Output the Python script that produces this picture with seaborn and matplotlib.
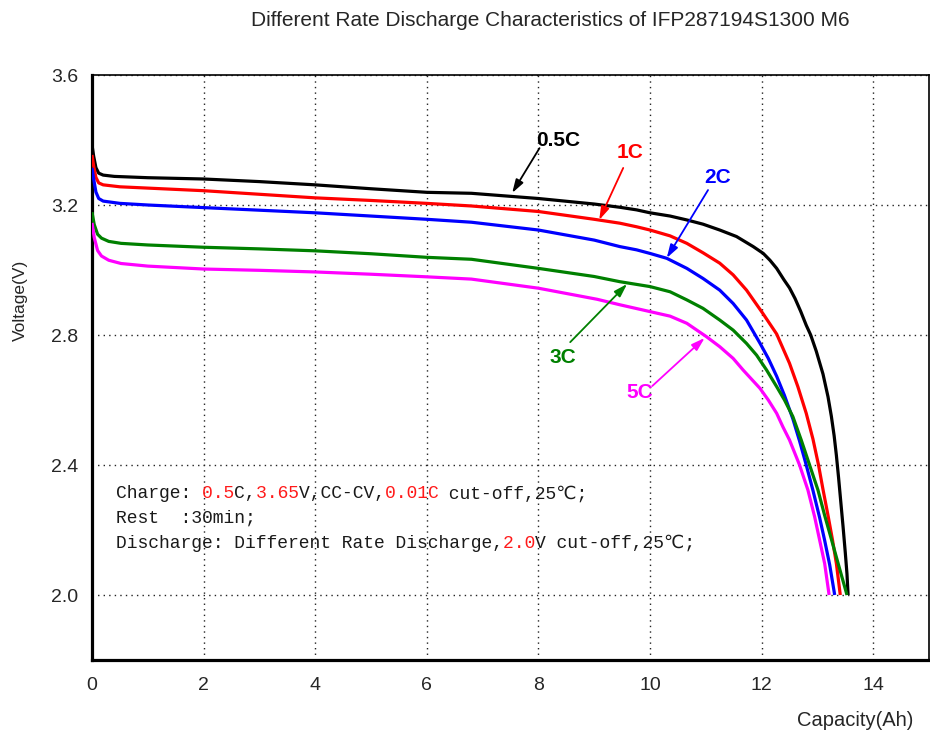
import numpy as np
import pandas as pd
import matplotlib
matplotlib.use("Agg")
import matplotlib.pyplot as plt
import seaborn as sns
from matplotlib.ticker import FixedLocator, FormatStrFormatter

# ---------------- data ----------------
rates = ["0.5C", "1C", "2C", "3C", "5C"]
colors = ["#000000", "#ff0000", "#0000ff", "#008000", "#ff00ff"]

cap_05 = [0, 0.03, 0.07, 0.12, 0.2, 0.4, 1, 2, 3, 4, 5, 6, 6.8, 8, 9, 9.46, 9.76, 10, 10.36,
          10.66, 10.95, 11.25, 11.55, 11.85, 12.03, 12.15, 12.27, 12.4, 12.5, 12.6, 12.7, 12.8,
          12.88, 12.98, 13.1, 13.19, 13.25, 13.3, 13.34, 13.38, 13.42, 13.46, 13.5, 13.53, 13.55]
v_05 = [3.385, 3.35, 3.315, 3.298, 3.292, 3.288, 3.284, 3.28, 3.272, 3.262, 3.25, 3.239, 3.236,
        3.22, 3.203, 3.193, 3.185, 3.176, 3.166, 3.154, 3.141, 3.123, 3.103, 3.072, 3.051,
        3.03, 3.005, 2.97, 2.945, 2.912, 2.873, 2.83, 2.8, 2.75, 2.68, 2.61, 2.55, 2.49,
        2.43, 2.36, 2.285, 2.21, 2.13, 2.065, 2.0]

cap_1 = [0, 0.03, 0.07, 0.12, 0.2, 0.5, 1, 2, 3, 4, 5, 6, 6.8, 8, 9, 9.46, 9.76, 10, 10.36,
         10.66, 10.95, 11.25, 11.49, 11.73, 12.02, 12.27, 12.5, 12.65, 12.8, 12.92, 13.02,
         13.1, 13.19, 13.27, 13.34, 13.41]
v_1 = [3.354, 3.32, 3.285, 3.268, 3.262, 3.256, 3.252, 3.244, 3.233, 3.222, 3.214, 3.205, 3.197,
       3.18, 3.156, 3.144, 3.133, 3.123, 3.105, 3.082, 3.053, 3.021, 2.985, 2.938, 2.867,
       2.803, 2.713, 2.641, 2.559, 2.48, 2.4, 2.325, 2.245, 2.17, 2.097, 2.0]

cap_2 = [0, 0.03, 0.07, 0.12, 0.2, 0.5, 1, 2, 3, 4, 5, 6, 6.8, 8, 9, 9.46, 9.76, 10, 10.3,
         10.66, 10.95, 11.25, 11.49, 11.73, 11.97, 12.12, 12.27, 12.41, 12.56, 12.68, 12.8,
         12.92, 13.04, 13.13, 13.22, 13.31]
v_2 = [3.314, 3.28, 3.24, 3.22, 3.212, 3.205, 3.2, 3.192, 3.184, 3.176, 3.166, 3.156, 3.147,
       3.123, 3.092, 3.072, 3.062, 3.051, 3.036, 3.005, 2.974, 2.938, 2.897, 2.846, 2.775,
       2.728, 2.673, 2.614, 2.542, 2.474, 2.4, 2.322, 2.238, 2.168, 2.093, 2.0]

cap_3 = [0, 0.04, 0.1, 0.17, 0.3, 0.52, 1, 2, 3, 4, 5, 6, 6.8, 8, 9, 9.46, 10, 10.36, 10.66,
         10.95, 11.25, 11.49, 11.73, 11.91, 12.09, 12.27, 12.41, 12.56, 12.71, 12.86,
         13.01, 13.13, 13.25, 13.37, 13.53]
v_3 = [3.178, 3.14, 3.11, 3.098, 3.088, 3.082, 3.077, 3.07, 3.065, 3.059, 3.05, 3.039, 3.033,
       3.005, 2.98, 2.964, 2.949, 2.933, 2.908, 2.882, 2.846, 2.815, 2.774, 2.738, 2.692,
       2.641, 2.6, 2.549, 2.477, 2.4, 2.323, 2.245, 2.172, 2.098, 2.0]

cap_5 = [0, 0.04, 0.1, 0.17, 0.3, 0.52, 1, 2, 3, 4, 5, 6, 6.8, 8, 9.05, 9.46, 10, 10.36, 10.66,
         11.01, 11.25, 11.49, 11.67, 11.97, 12.12, 12.27, 12.38, 12.5, 12.68, 12.83, 12.95,
         13.04, 13.13, 13.21]
v_5 = [3.145, 3.10, 3.06, 3.043, 3.03, 3.02, 3.012, 3.003, 2.999, 2.994, 2.987, 2.979, 2.972,
       2.944, 2.91, 2.893, 2.872, 2.858, 2.836, 2.795, 2.764, 2.728, 2.692, 2.636, 2.6, 2.559,
       2.518, 2.477, 2.4, 2.323, 2.241, 2.169, 2.097, 2.0]

caps = [cap_05, cap_1, cap_2, cap_3, cap_5]
volts = [v_05, v_1, v_2, v_3, v_5]

x_labeled = [0, 2, 4, 6, 8, 10, 12, 14]
x_ticks = [1, 3, 5, 7, 9, 11, 13]
y_labeled = [2.0, 2.4, 2.8, 3.2, 3.6]
y_ticks = [2.2, 2.6, 3.0, 3.4]

title = "Different Rate Discharge Characteristics of IFP287194S1300 M6"

# rate label positions and arrows (text centre, arrow tail, arrow head)
label_text = {"0.5C": (8.36, 3.397), "1C": (9.65, 3.362), "2C": (11.22, 3.286),
              "3C": (8.44, 2.731), "5C": (9.81, 2.623)}
arrow_tail = {"0.5C": (8.02, 3.375), "1C": (9.52, 3.314), "2C": (11.04, 3.246),
              "3C": (8.57, 2.778), "5C": (10.04, 2.643)}
arrow_head = {"0.5C": (7.53, 3.237), "1C": (9.09, 3.154), "2C": (10.30, 3.037),
              "3C": (9.59, 2.957), "5C": (10.98, 2.791)}

note_lines = [
    [("Charge: ", "k"), ("0.5", "r"), ("C,", "k"), ("3.65", "r"), ("V,CC-CV,", "k"),
     ("0.01C", "r"), (" cut-off,25℃;", "k")],
    [("Rest  :30min;", "k")],
    [("Discharge: Different Rate Discharge,", "k"), ("2.0", "r"), ("V cut-off,25℃;", "k")],
]

# ---------------- plot ----------------
sns.set_style("white")
plt.rcParams["font.family"] = ["Liberation Sans", "DejaVu Sans"]

fig = plt.figure(figsize=(9.3, 7.34), dpi=100)
ax = fig.add_axes([92 / 930, 1 - 660 / 734, (929 - 92) / 930, (660 - 75) / 734])

df = pd.concat([pd.DataFrame({"Capacity": c, "Voltage": v, "Rate": r})
                for c, v, r in zip(caps, volts, rates)], ignore_index=True)
sns.lineplot(data=df, x="Capacity", y="Voltage", hue="Rate", hue_order=rates,
             palette=dict(zip(rates, colors)), sort=False, estimator=None,
             legend=False, linewidth=2.3, ax=ax, zorder=3,
             solid_joinstyle="round", solid_capstyle="butt")

ax.set_xlim(0, 15)
ax.set_ylim(1.8, 3.6)
ax.xaxis.set_major_locator(FixedLocator(x_labeled))
ax.xaxis.set_minor_locator(FixedLocator(x_ticks))
ax.yaxis.set_major_locator(FixedLocator(y_labeled))
ax.yaxis.set_minor_locator(FixedLocator(y_ticks))
ax.yaxis.set_major_formatter(FormatStrFormatter("%.1f"))
ax.xaxis.set_major_formatter(FormatStrFormatter("%d"))
ax.tick_params(which="major", direction="in", length=0, labelsize=14)
ax.tick_params(which="minor", direction="in", length=6, width=1.6, color="black")
ax.tick_params(axis="x", which="major", pad=12)
ax.tick_params(axis="y", which="major", pad=10)
ax.grid(True, which="major", linestyle=(0, (1, 3)), color="#222222", linewidth=1.0)

for side in ["left", "bottom"]:
    ax.spines[side].set_linewidth(2.3)
    ax.spines[side].set_color("black")
for side in ["top", "right"]:
    ax.spines[side].set_linewidth(1.2)
    ax.spines[side].set_color("black")
    ax.spines[side].set_visible(True)

ax.set_xlabel("Capacity(Ah)", fontsize=14.5)
ax.set_ylabel("Voltage(V)", fontsize=12.5)
ax.xaxis.set_label_coords(0.912, -0.087)
ax.yaxis.set_label_coords(-0.077, 0.615)

fig.text(550 / 930, 1 - 21 / 734, title, ha="center", va="center", fontsize=15)

for r, col in zip(rates, colors):
    ax.annotate("", xy=arrow_head[r], xytext=arrow_tail[r],
                arrowprops=dict(arrowstyle="-|>,head_length=0.8,head_width=0.25",
                                color=col, lw=1.3, shrinkA=0, shrinkB=0), zorder=4)
    tx, ty = label_text[r]
    ax.text(tx, ty, r, color=col, fontsize=15, fontweight="bold", ha="center",
            va="center", zorder=4)

# note block: segments chained one after another (zero-width spaces keep exact advances)
mono = ["Liberation Mono", "DejaVu Sans Mono", "DejaVu Sans"]
note_y = [2.311, 2.237, 2.160]
cmap = {"k": "#1a1a1a", "r": "#ff1a1a"}
zw = "\u200b"
for segs, y in zip(note_lines, note_y):
    prev = None
    for t, c in segs:
        s = zw + t + zw
        if prev is None:
            prev = ax.text(0.43, y, s, color=cmap[c], fontsize=13, family=mono,
                           ha="left", va="center", zorder=4)
        else:
            prev = ax.annotate(s, xy=(1, 0.5), xycoords=prev, color=cmap[c],
                               fontsize=13, family=mono, ha="left", va="center",
                               zorder=4)

fig.savefig("out.png", dpi=100)
